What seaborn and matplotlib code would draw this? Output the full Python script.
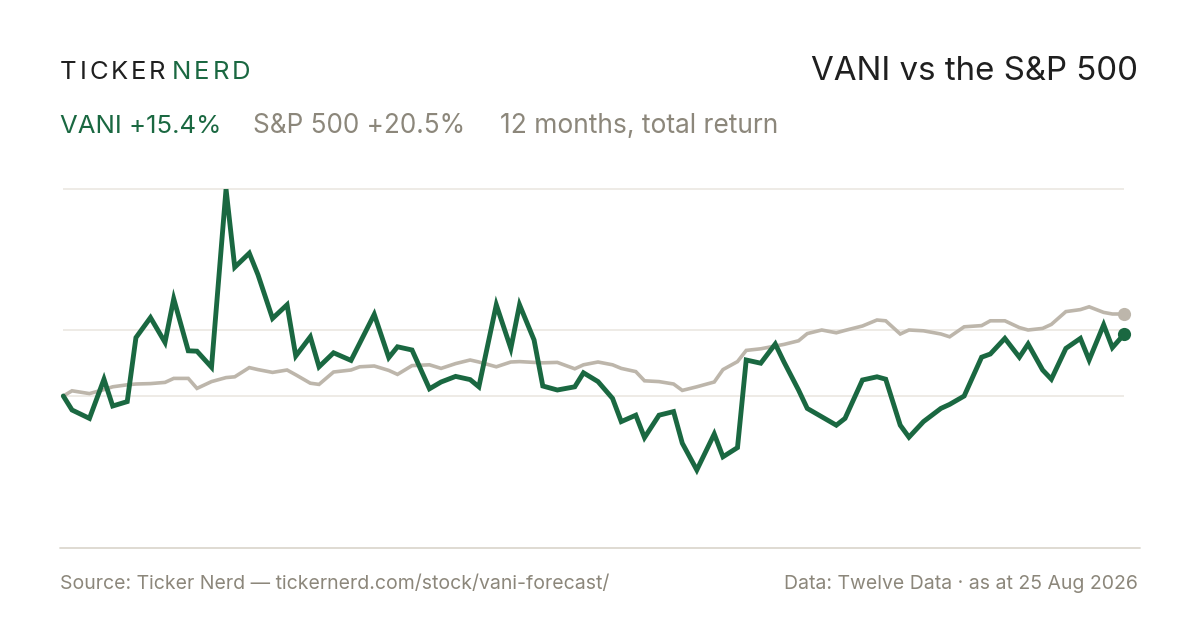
import matplotlib
matplotlib.use("Agg")
import matplotlib.pyplot as plt
from matplotlib.lines import Line2D
import seaborn as sns
import pandas as pd

# NYSE holidays inside the 12-month window
HOLIDAYS = ["2025-09-01", "2025-11-27", "2025-12-25", "2026-01-01", "2026-01-19",
            "2026-02-16", "2026-04-03", "2026-05-25", "2026-06-19", "2026-07-03"]

# total return, % since start (every 3rd trading day + last day)
vani = [0.0, -3.5, -5.6, 4.2, -2.5, -1.4, 14.6, 19.6, 13.4, 24.3,
        11.3, 11.2, 7.2, 51.7, 32.2, 35.7, 30.3, 19.4, 22.8, 10.0,
        14.8, 7.3, 10.8, 8.9, 13.2, 20.4, 9.6, 12.3, 11.5, 1.8,
        3.5, 4.9, 4.1, 2.3, 22.8, 11.9, 22.8, 14.0, 2.5, 1.5,
        2.3, 5.8, 3.6, -0.6, -6.4, -4.8, -10.4, -4.8, -3.9, -11.8,
        -18.5, -9.5, -15.2, -12.9, 9.0, 8.2, 13.0, 8.5, 1.5, -3.1,
        -5.2, -7.3, -5.6, 4.0, 4.8, 4.2, -7.3, -10.3, -6.4, -3.1,
        -2.1, 0.0, 9.7, 10.5, 14.4, 9.7, 13.0, 6.5, 4.2, 11.9,
        14.4, 9.0, 17.8, 12.1, 15.4]
spx = [0.0, 1.3, 0.6, 1.6, 2.3, 2.8, 3.0, 3.1, 3.4, 4.4,
       4.4, 1.9, 3.6, 4.6, 4.8, 7.1, 6.6, 5.9, 6.5, 5.3,
       3.2, 2.9, 6.0, 6.5, 7.3, 7.5, 6.4, 5.4, 7.6, 7.8,
       6.9, 8.1, 9.0, 8.5, 7.3, 8.5, 8.6, 8.4, 8.3, 8.4,
       6.8, 7.8, 8.5, 7.8, 6.9, 6.1, 3.8, 3.6, 3.0, 1.4,
       2.3, 3.5, 6.6, 8.6, 11.4, 11.8, 12.5, 12.9, 13.8, 15.6,
       16.5, 15.8, 16.4, 17.5, 19.0, 18.8, 15.5, 16.5, 16.3, 15.5,
       14.8, 17.3, 17.6, 18.8, 18.8, 17.1, 16.5, 16.9, 17.9, 21.1,
       21.6, 22.3, 20.9, 20.5, 20.5]

trading = pd.bdate_range("2025-08-25", "2026-08-25", freq="C", holidays=HOLIDAYS)
pick = list(range(0, len(trading), 3))
if pick[-1] != len(trading) - 1:
    pick.append(len(trading) - 1)
df = pd.DataFrame({"date": trading[pick], "VANI": vani, "S&P 500": spx})

GREEN = "#1a6841"
GRAY_LINE = "#bdb6ab"
GRAY_TEXT = "#8c877b"
DARK = "#1f1f1f"
GRID = "#ebe7e1"
RULE = "#dcd8cf"

sns.set_theme(style="white")
plt.rcParams["font.family"] = ["Inter", "DejaVu Sans"]

W, H = 1200, 630
fig = plt.figure(figsize=(12, 6.3), dpi=100, facecolor="white")


def px(x, y):
    return x / W, 1 - y / H


ax = fig.add_axes([63.3 / W, 82 / H, 1060.7 / W, 378 / H])
ax.set_facecolor("white")

# reference lines: peak, middle of range, zero
lo, hi = min(vani), max(vani)
for y in [hi, (hi + lo) / 2, 0]:
    ax.axhline(y, color=GRID, lw=1.2, zorder=0)

sns.lineplot(data=df, x="date", y="S&P 500", color=GRAY_LINE, lw=2.6, ax=ax,
             solid_joinstyle="miter", clip_on=False, zorder=2)
sns.lineplot(data=df, x="date", y="VANI", color=GREEN, lw=3.5, ax=ax,
             solid_joinstyle="miter", clip_on=False, zorder=3)
ax.scatter([df["date"].iloc[-1]], [df["S&P 500"].iloc[-1]], s=90, color=GRAY_LINE,
           zorder=4, clip_on=False, linewidths=0)
ax.scatter([df["date"].iloc[-1]], [df["VANI"].iloc[-1]], s=90, color=GREEN,
           zorder=5, clip_on=False, linewidths=0)

ax.set_xlim(df["date"].iloc[0], df["date"].iloc[-1])
ax.set_ylim(-38, 56.5)
ax.axis("off")

fig.add_artist(Line2D([60 / W, 1140 / W], [1 - 548 / H] * 2, color=RULE, lw=1.3))

# logo with letter spacing
r = fig.canvas.get_renderer()
x = 60
for word, col in [("TICKER", DARK), ("NERD", GREEN)]:
    for ch in word:
        t = fig.text(*px(x, 79), ch, color=col, fontsize=18.5, va="baseline")
        x = t.get_window_extent(r).x1 + 2.8
    x += 4

fig.text(*px(1138, 80), "VANI vs the S&P 500", color=DARK, fontsize=23.8,
         ha="right", va="baseline")

fig.text(*px(60, 133), "VANI +15.4%", color=GREEN, fontsize=18.5, va="baseline")
fig.text(*px(253, 133), "S&P 500 +20.5%", color=GRAY_TEXT, fontsize=18.8, va="baseline")
fig.text(*px(500, 133), "12 months, total return", color=GRAY_TEXT, fontsize=19,
         va="baseline")

fig.text(*px(60, 589), "Source: Ticker Nerd — tickernerd.com/stock/vani-forecast/",
         color=GRAY_TEXT, fontsize=14, va="baseline")
fig.text(*px(1138, 589), "Data: Twelve Data · as at 25 Aug 2026", color=GRAY_TEXT,
         fontsize=14, ha="right", va="baseline")

fig.savefig("out.png", dpi=100, facecolor="white")
